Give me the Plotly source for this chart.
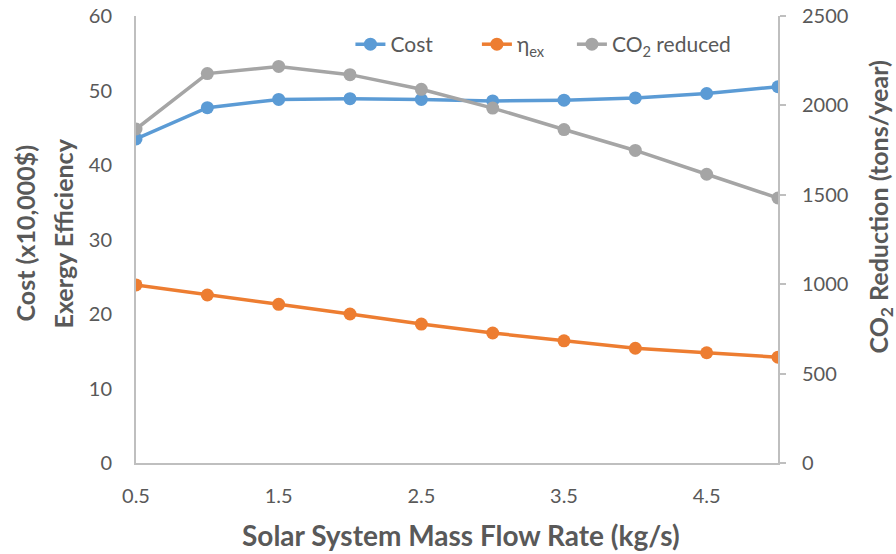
import plotly.graph_objects as go

# Solar system mass flow rate (kg/s)
flow_rate = [0.5, 1.0, 1.5, 2.0, 2.5, 3.0, 3.5, 4.0, 4.5, 5.0]
# Cost (x10,000$)
cost = [43.5, 47.7, 48.8, 48.9, 48.8, 48.6, 48.7, 49.0, 49.6, 50.5]
# Exergy efficiency
eta_ex = [23.9, 22.55, 21.3, 20.0, 18.65, 17.45, 16.4, 15.4, 14.8, 14.2]
# CO2 reduced (tons/year)
co2_reduced = [1868, 2178, 2218, 2172, 2090, 1985, 1865, 1748, 1615, 1482]

font_family = "Lato, Open Sans, Liberation Sans, Arial"
text_color = "#595959"
axis_color = "#BFBFBF"
xtitle_font = dict(family=font_family, size=28, color=text_color)
ytitle_font = dict(family=font_family, size=25, color=text_color)
tick_font = dict(family=font_family, size=20, color=text_color)
legend_font = dict(family=font_family, size=21, color=text_color)

fig = go.Figure()
fig.add_trace(go.Scatter(
    x=flow_rate, y=cost, name="Cost", mode="lines+markers",
    line=dict(color="#5B9BD5", width=3.5),
    marker=dict(color="#5B9BD5", size=13),
    legend="legend",
))
fig.add_trace(go.Scatter(
    x=flow_rate, y=eta_ex, name="η<sub>ex</sub>", mode="lines+markers",
    line=dict(color="#ED7D31", width=3.5),
    marker=dict(color="#ED7D31", size=13),
    legend="legend2",
))
fig.add_trace(go.Scatter(
    x=flow_rate, y=co2_reduced, name="CO<sub>2</sub> reduced", mode="lines+markers",
    line=dict(color="#A5A5A5", width=3.5),
    marker=dict(color="#A5A5A5", size=13),
    yaxis="y2", legend="legend3",
))


def legend_box(xpos):
    return dict(
        orientation="h", x=xpos, y=0.982, xanchor="left", yanchor="top",
        font=legend_font, bgcolor="rgba(0,0,0,0)",
    )


fig.update_layout(
    width=896, height=554,
    margin=dict(l=136, r=118, t=16, b=91),
    paper_bgcolor="white", plot_bgcolor="white",
    font=dict(family=font_family, color=text_color, size=18),
    showlegend=True,
    legend=legend_box(0.334),
    legend2=legend_box(0.531),
    legend3=legend_box(0.679),
    xaxis=dict(
        range=[0.5, 5], tick0=0.5, dtick=1, showgrid=False, zeroline=False,
        showline=True, linecolor=axis_color, linewidth=2, ticks="",
        tickfont=tick_font, ticklabelstandoff=14, automargin=False,
    ),
    yaxis=dict(
        range=[0, 60], dtick=10, showgrid=False, zeroline=False,
        showline=True, linecolor=axis_color, linewidth=2, ticks="",
        tickfont=tick_font, ticklabelstandoff=18, automargin=False,
    ),
    yaxis2=dict(
        range=[0, 2500], dtick=500, overlaying="y", side="right",
        showgrid=False, zeroline=False,
        showline=True, linecolor=axis_color, linewidth=2,
        ticks="outside", ticklen=6, tickcolor=axis_color, tickwidth=2,
        tickfont=tick_font, ticklabelstandoff=12, automargin=False,
    ),
    annotations=[
        dict(text="<b>Solar System Mass Flow Rate (kg/s)</b>",
             xref="paper", yref="paper", x=0.5, y=0, yanchor="middle",
             yshift=-72, xshift=4, showarrow=False, font=xtitle_font),
        dict(text="<b>Cost (x10,000$)</b>", textangle=-90,
             xref="paper", yref="paper", x=0, y=0.5, xanchor="center",
             yanchor="middle", xshift=-112, yshift=6, showarrow=False,
             font=ytitle_font),
        dict(text="<b>Exergy Efficiency</b>", textangle=-90,
             xref="paper", yref="paper", x=0, y=0.5, xanchor="center",
             yanchor="middle", xshift=-74, yshift=6, showarrow=False,
             font=ytitle_font),
        dict(text="<b>CO<sub>2</sub> Reduction (tons/year)</b>", textangle=-90,
             xref="paper", yref="paper", x=1, y=0.5, xanchor="center",
             yanchor="middle", xshift=101, yshift=32, showarrow=False,
             font=ytitle_font),
    ],
)

fig.write_html("out.html")
